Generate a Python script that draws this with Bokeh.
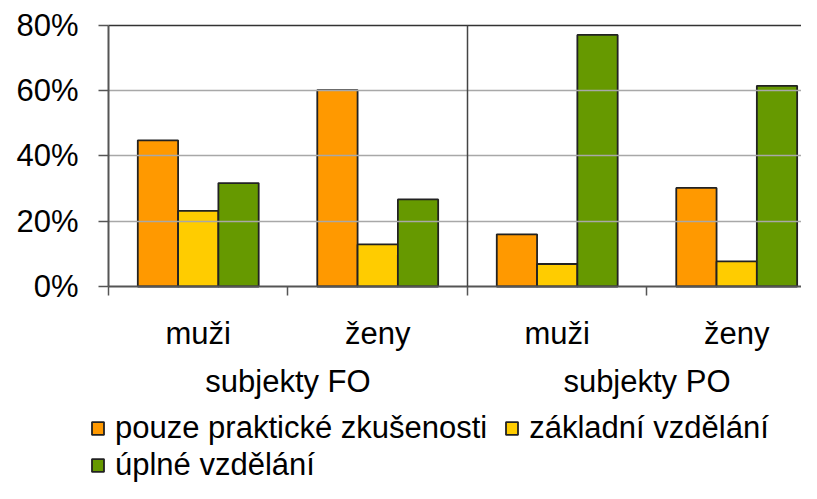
from bokeh.plotting import figure
from bokeh.models import (ColumnDataSource, Range1d, FixedTicker, LinearAxis,
                          Legend, LegendItem, PrintfTickFormatter)
from bokeh.embed import file_html
from bokeh.resources import INLINE

# ---- data ----
subgroups = ["muži", "ženy", "muži", "ženy"]
groups = ["subjekty FO", "subjekty PO"]
series_names = ["pouze praktické zkušenosti", "základní vzdělání", "úplné vzdělání"]
prakticke = [44.8, 60.2, 16.0, 30.2]
zakladni = [23.2, 12.9, 6.9, 7.7]
uplne = [31.7, 26.7, 77.1, 61.5]
y_ticks = [0, 20, 40, 60, 80]

colors = ["#FF9900", "#FFCC00", "#669900"]
FONT = "Liberation Sans"
FS = "31px"
AX = "#555555"
X_END = 3.861

W, H = 801, 483
# the frame covers the whole canvas; value 0 sits at 286 px, 80 at 25 px,
# category start at 108 px
p = figure(width=W, height=H, output_backend="svg", toolbar_location=None,
           x_range=Range1d(-0.6017, X_END), y_range=Range1d(-60.38, 87.66),
           min_border_left=0, min_border_top=0, min_border_right=0,
           min_border_bottom=0)
p.outline_line_color = None
p.background_fill_color = "white"
p.border_fill_color = "white"

centers = [i + 0.5 for i in range(len(subgroups))]
bw = 0.2245
renderers = []
for k, vals in enumerate([prakticke, zakladni, uplne]):
    src = ColumnDataSource(dict(x=[c + (k - 1) * bw for c in centers], top=vals))
    r = p.vbar(x="x", top="top", width=bw, bottom=0, source=src,
               fill_color=colors[k], line_color="#222222", line_width=1.8)
    renderers.append(r)

# y axis drawn at category start
p.yaxis.fixed_location = 0
p.yaxis.ticker = FixedTicker(ticks=y_ticks)
p.yaxis.bounds = (0, 80)
p.yaxis.formatter = PrintfTickFormatter(format="%d%%")
p.yaxis.major_label_text_font = FONT
p.yaxis.major_label_text_font_size = FS
p.yaxis.major_label_text_color = "black"
p.yaxis.major_tick_out = 10
p.yaxis.major_tick_in = 0
p.yaxis.minor_tick_line_color = None
p.yaxis.major_label_standoff = 20
p.yaxis.axis_line_color = AX
p.yaxis.axis_line_width = 2
p.yaxis.major_tick_line_color = AX
p.yaxis.major_tick_line_width = 1.5

p.xgrid.grid_line_color = None
p.ygrid.grid_line_color = None

# horizontal grid lines (and darker top border), bounded to the plot area
for yv in y_ticks[1:]:
    g = LinearAxis(fixed_location=yv, bounds=(0, X_END), ticker=FixedTicker(ticks=[]))
    g.axis_line_color = "#333333" if yv == y_ticks[-1] else "#a8a8a8"
    g.axis_line_width = 1.5
    g.major_tick_line_color = None
    g.minor_tick_line_color = None
    g.major_label_text_font_size = "0px"
    p.add_layout(g, "below")

# x axis at value 0: subgroup labels, group boundary ticks
xa = p.xaxis[0]
xa.fixed_location = 0
xa.bounds = (0, X_END)
xa.ticker = FixedTicker(ticks=centers, minor_ticks=[0, 1, 2, 3, 4])
xa.major_label_overrides = {c: s for c, s in zip(centers, subgroups)}
xa.major_tick_line_color = None
xa.major_tick_out = 0
xa.minor_tick_out = 9
xa.minor_tick_in = 0
xa.minor_tick_line_color = AX
xa.minor_tick_line_width = 1.5
xa.axis_line_color = AX
xa.axis_line_width = 2
xa.major_label_text_font = FONT
xa.major_label_text_font_size = FS
xa.major_label_text_color = "black"
xa.major_label_standoff = 20

# group axis (labels only)
gcenters = [1, 3]
gaxis = LinearAxis(ticker=FixedTicker(ticks=gcenters), fixed_location=0,
                   major_label_overrides={c: g for c, g in zip(gcenters, groups)})
gaxis.axis_line_color = None
gaxis.major_tick_line_color = None
gaxis.minor_tick_line_color = None
gaxis.major_tick_out = 0
gaxis.major_label_standoff = 77
gaxis.major_label_text_font = FONT
gaxis.major_label_text_font_size = FS
gaxis.major_label_text_color = "black"
p.add_layout(gaxis, "below")

# vertical separator between the two groups (axis line only, bounded 0..80)
sep = LinearAxis(fixed_location=2, bounds=(0, 80), ticker=FixedTicker(ticks=[]))
sep.axis_line_color = "#444444"
sep.axis_line_width = 1.5
sep.major_tick_line_color = None
sep.minor_tick_line_color = None
sep.major_label_text_font_size = "0px"
p.add_layout(sep, "left")


def make_legend(items, loc):
    lg = Legend(items=items, location=loc, orientation="horizontal")
    lg.label_text_font = FONT
    lg.label_text_font_size = FS
    lg.label_text_color = "black"
    lg.glyph_width = 15
    lg.glyph_height = 16
    lg.label_standoff = 10
    lg.spacing = 17
    lg.padding = 0
    lg.margin = 0
    lg.border_line_color = None
    lg.background_fill_alpha = 0
    lg.label_height = 30
    return lg


items = [LegendItem(label=n, renderers=[r]) for n, r in zip(series_names, renderers)]
p.add_layout(make_legend(items[:2], (90, 37)))
p.add_layout(make_legend(items[2:], (90, 0)))

open("out.html", "w").write(file_html(p, INLINE))
